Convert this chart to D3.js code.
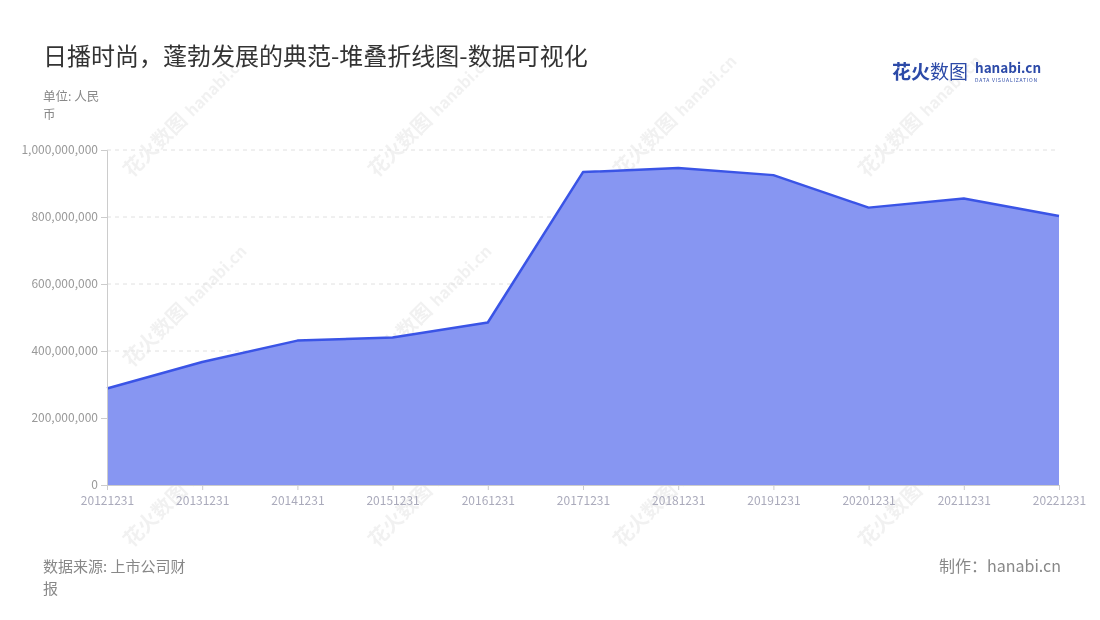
<!DOCTYPE html>
<html><head><meta charset="utf-8">
<script src="https://cdn.jsdelivr.net/npm/d3@7"></script>
<style>
body{margin:0;background:#fff;}
svg text{font-family:"Noto Sans CJK SC","Noto Sans",sans-serif;}
</style></head>
<body><svg id="c" width="1100" height="620"></svg>
<script>
const categories = ["20121231","20131231","20141231","20151231","20161231","20171231","20181231","20191231","20201231","20211231","20221231"];
const values = [288000000,367000000,431000000,440000000,485000000,934000000,946000000,925000000,828000000,855000000,803000000];
const yTicks = [0,200000000,400000000,600000000,800000000,1000000000];

const svg = d3.select("#c");
const m = {l:107, r:1059, t:150, b:485};
const x = d3.scalePoint().domain(categories).range([m.l, m.r]);
const y = d3.scaleLinear().domain([0,1000000000]).range([m.b, m.t]);

// watermarks
const wm = svg.append("g").attr("opacity",0.08);
[[160,150],[405,150],[650,150],[895,150],[160,340],[405,340],[650,340],[895,340],[160,520],[405,520],[650,520],[895,520]].forEach(([cx,cy])=>{
  const g = wm.append("g").attr("transform",`translate(${cx},${cy}) rotate(-45)`);
  g.append("text").attr("x",0).attr("y",0).attr("font-size",20).attr("font-weight","bold").attr("fill","#555").attr("text-anchor","middle").text("花火数图");
  g.append("text").attr("x",85).attr("y",0).attr("font-size",16).attr("font-weight","bold").attr("fill","#555").attr("text-anchor","middle").text("hanabi.cn");
});

// grid
svg.append("g").selectAll("line").data(yTicks.slice(1)).join("line")
  .attr("x1",m.l).attr("x2",m.r).attr("y1",d=>y(d)).attr("y2",d=>y(d))
  .attr("stroke","#e0e0e0").attr("stroke-dasharray","4,4");

// area
svg.append("path").datum(values)
  .attr("d", d3.area().x((d,i)=>x(categories[i])).y0(y(0)).y1(d=>y(d)))
  .attr("fill","#8796f2");
svg.append("path").datum(values)
  .attr("d", d3.line().x((d,i)=>x(categories[i])).y(d=>y(d)))
  .attr("fill","none").attr("stroke","#3a54e6").attr("stroke-width",2.5).attr("stroke-linejoin","round");

// axes
const ya = svg.append("g").attr("transform",`translate(${m.l},0)`)
  .call(d3.axisLeft(y).tickValues(yTicks).tickSize(6).tickPadding(3).tickFormat(d3.format(",")));
ya.select(".domain").attr("stroke","#ccc");
ya.selectAll(".tick line").attr("stroke","#ccc");
ya.selectAll("text").attr("fill","#999").attr("font-size",12);

const xa = svg.append("g").attr("transform",`translate(0,${m.b})`)
  .call(d3.axisBottom(x).tickSize(5).tickPadding(6));
xa.select(".domain").attr("stroke","#ccc");
xa.selectAll(".tick line").attr("stroke","#ccc");
xa.selectAll("text").attr("fill","#aab").attr("font-size",12);

// titles
svg.append("text").attr("x",43).attr("y",65).attr("font-size",24).attr("fill","#333").text("日播时尚，蓬勃发展的典范-堆叠折线图-数据可视化");
svg.append("text").attr("x",43).attr("y",101).attr("font-size",12.5).attr("fill","#888").text("单位: 人民");
svg.append("text").attr("x",43).attr("y",119).attr("font-size",12.5).attr("fill","#888").text("币");
svg.append("text").attr("x",43).attr("y",572).attr("font-size",15).attr("fill","#888").text("数据来源: 上市公司财");
svg.append("text").attr("x",43).attr("y",594).attr("font-size",15).attr("fill","#888").text("报");
svg.append("text").attr("x",1061).attr("y",572).attr("font-size",16).attr("fill","#888").attr("text-anchor","end").text("制作：hanabi.cn");

// logo
svg.append("text").attr("x",892).attr("y",79).attr("font-size",19).attr("font-weight","bold").attr("fill","#2c4aa8").text("花火");
svg.append("text").attr("x",930).attr("y",79).attr("font-size",19).attr("fill","#2c4aa8").text("数图");
svg.append("text").attr("x",975).attr("y",73).attr("font-size",13.5).attr("font-weight","bold").attr("fill","#2c4aa8").text("hanabi.cn");
svg.append("text").attr("x",975).attr("y",82).attr("font-size",5).attr("fill","#2c4aa8").attr("letter-spacing",0.8).text("DATA VISUALIZATION");
</script></body></html>
